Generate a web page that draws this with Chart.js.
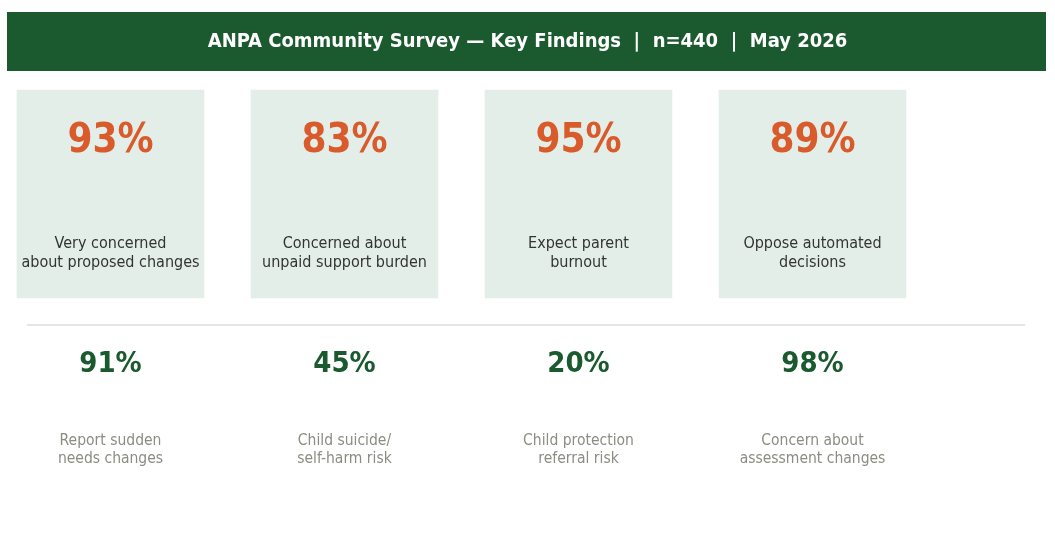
<!DOCTYPE html>
<html>
<head>
<meta charset="utf-8">
<script src="https://cdn.jsdelivr.net/npm/chart.js@4/dist/chart.umd.min.js"></script>
<style>
  html, body { margin: 0; padding: 0; background: #ffffff; }
  #wrap { width: 1055px; height: 548px; }
</style>
</head>
<body>
<div id="wrap"><canvas id="c" width="1055" height="548"></canvas></div>
<script>
// Survey figures
const titleText = 'ANPA Community Survey \u2014 Key Findings  |  n=440  |  May 2026';
const columns = [0, 1, 2, 3];
const headlineValues = [93, 83, 95, 89];
const headlineLabels = [
  ['Very concerned', 'about proposed changes'],
  ['Concerned about', 'unpaid support burden'],
  ['Expect parent', 'burnout'],
  ['Oppose automated', 'decisions']
];
const secondaryValues = [91, 45, 20, 98];
const secondaryLabels = [
  ['Report sudden', 'needs changes'],
  ['Child suicide/', 'self-harm risk'],
  ['Child protection', 'referral risk'],
  ['Concern about', 'assessment changes']
];

// Layout (y units are canvas rows on the reversed y axis)
const FONT = '"DejaVu Sans Condensed", "DejaVu Sans", sans-serif';
const CARD_TOP = 90, CARD_BOTTOM = 298;
const COL_STEP = 234, FIRST_COL = 110.5;

const infographic = {
  id: 'infographic',
  beforeDatasetsDraw(chart) {
    const { ctx, scales: { y } } = chart;
    ctx.save();
    // header band
    ctx.fillStyle = '#1a5a2e';
    ctx.fillRect(7, y.getPixelForValue(12), 1039, y.getPixelForValue(71) - y.getPixelForValue(12));
    ctx.fillStyle = '#ffffff';
    ctx.font = 'bold 20px ' + FONT;
    ctx.textAlign = 'center';
    ctx.textBaseline = 'middle';
    ctx.fillText(titleText, 1055 / 2, y.getPixelForValue(42));
    // divider between the two rows
    ctx.strokeStyle = '#dddddd';
    ctx.lineWidth = 1.5;
    ctx.beginPath();
    ctx.moveTo(27, y.getPixelForValue(325));
    ctx.lineTo(1025, y.getPixelForValue(325));
    ctx.stroke();
    ctx.restore();
  },
  afterDatasetsDraw(chart) {
    const { ctx, scales: { x, y } } = chart;
    ctx.save();
    ctx.textAlign = 'center';
    ctx.textBaseline = 'middle';
    columns.forEach((c, i) => {
      const cx = x.getPixelForValue(c);
      ctx.fillStyle = '#d95b2b';
      ctx.font = 'bold 40px ' + FONT;
      ctx.fillText(headlineValues[i] + '%', cx, y.getPixelForValue(142));
      ctx.fillStyle = '#333333';
      ctx.font = '16px ' + FONT;
      headlineLabels[i].forEach((t, k) => ctx.fillText(t, cx, y.getPixelForValue(244 + k * 19)));
      ctx.fillStyle = '#1a5a2e';
      ctx.font = 'bold 29px ' + FONT;
      ctx.fillText(secondaryValues[i] + '%', cx, y.getPixelForValue(364));
      ctx.fillStyle = '#8c8c84';
      ctx.font = '15.5px ' + FONT;
      secondaryLabels[i].forEach((t, k) => ctx.fillText(t, cx, y.getPixelForValue(441 + k * 18)));
    });
    ctx.restore();
  }
};

new Chart(document.getElementById('c'), {
  type: 'bar',
  data: {
    datasets: [{
      data: columns.map(c => ({ x: c, y: [CARD_TOP, CARD_BOTTOM] })),
      backgroundColor: '#e3eee8',
      borderWidth: 0,
      barThickness: 187
    }]
  },
  options: {
    responsive: false,
    animation: false,
    devicePixelRatio: 1,
    layout: { padding: 0 },
    plugins: { legend: { display: false }, tooltip: { enabled: false }, title: { display: false } },
    scales: {
      x: {
        type: 'linear', display: false, offset: false, grid: { offset: false },
        min: -FIRST_COL / COL_STEP, max: (1055 - FIRST_COL) / COL_STEP
      },
      y: { type: 'linear', display: false, min: 0, max: 548, reverse: true }
    }
  },
  plugins: [infographic]
});
</script>
</body>
</html>
